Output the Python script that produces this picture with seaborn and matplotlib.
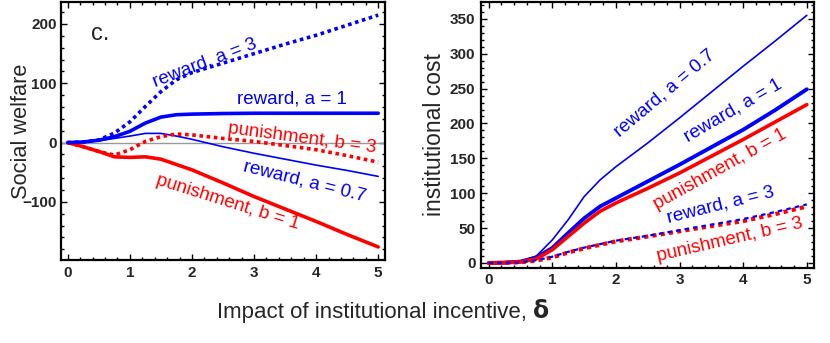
import numpy as np
import pandas as pd
import matplotlib
matplotlib.use("Agg")
import matplotlib.pyplot as plt
from matplotlib.ticker import MultipleLocator
import seaborn as sns

delta = [0, 0.25, 0.5, 0.75, 1.0, 1.25, 1.5, 1.75, 2.0, 2.5, 3.0, 3.5, 4.0, 4.5, 5.0]

# panel c: social welfare
sw_reward_a3 = [0, 1, 4.5, 16, 35, 61, 86, 106, 118, 134, 150, 166, 181, 198, 215]
sw_reward_a1 = [0, 1, 4, 10, 19, 33, 43, 47, 48, 49, 49.5, 49.5, 49.5, 49.5, 49.5]
sw_reward_a07 = [0, 1, 3, 7, 11, 15.5, 15.5, 11, 5.5, -7, -18, -28, -38, -47, -57]
sw_punish_b3 = [0, -7, -15, -21, -12, 2, 10, 14.5, 13, 7, 2, -5, -12, -22, -33]
sw_punish_b1 = [0, -7, -15, -24, -25, -24, -28, -37, -46, -68, -91, -112, -133, -155, -176]

# right panel: institutional cost
ic_reward_a07 = [0, 0.5, 2, 10, 33, 62, 95, 119, 138, 172, 208, 245, 282, 318, 355]
ic_reward_a1 = [0, 0.5, 2, 8, 21.5, 43, 64, 81, 93, 117, 141, 166, 191, 219, 249]
ic_punish_b1 = [0, 0.5, 1.5, 6, 19, 38, 57, 74, 86, 107, 129, 153, 177, 202, 227]
ic_reward_a3 = [0, 0.3, 1, 4, 9, 16, 22, 27, 32, 39, 47, 55, 63, 73, 84]
ic_punish_b3 = [0, 0.3, 1, 3.5, 8, 15, 21, 26, 31, 38, 45.5, 53, 60, 70, 81]

sns.set_style("ticks")
plt.rcParams['font.family'] = ['Liberation Sans', 'DejaVu Sans']

BLUE = '#0000ff'
RED = '#ff0000'
DOT = (1.0, 1.0)

fig = plt.figure(figsize=(8.3, 3.43), dpi=100)
ax1 = fig.add_axes([0.0735, 0.242, 0.3904, 0.752])
ax2 = fig.add_axes([0.5795, 0.219, 0.401, 0.775])

# --- left panel
ax1.axhline(0, color='#999999', lw=1.0, zorder=1)
sns.lineplot(x=delta, y=sw_reward_a07, ax=ax1, color=BLUE, lw=1.2)
sns.lineplot(x=delta, y=sw_punish_b1, ax=ax1, color=RED, lw=2.6)
sns.lineplot(x=delta, y=sw_reward_a1, ax=ax1, color=BLUE, lw=2.6)
sns.lineplot(x=delta, y=sw_punish_b3, ax=ax1, color=RED, lw=2.6,
             linestyle=(0, DOT))
sns.lineplot(x=delta, y=sw_reward_a3, ax=ax1, color=BLUE, lw=2.6,
             linestyle=(0, DOT))

lab = dict(fontsize=13.5, ha='center', va='center', rotation_mode='anchor')
ax1.text(0.52, 183, 'c.', fontsize=17, ha='center', va='center')
ax1.text(2.21, 134, 'reward, a = 3', color=BLUE, rotation=21, **lab)
ax1.text(3.61, 73, 'reward, a = 1', color=BLUE, rotation=0, **lab)
ax1.text(3.77, 8, 'punishment, b = 3', color=RED, rotation=-7.5, **lab)
ax1.text(3.82, -66, 'reward, a = 0.7', color=BLUE, rotation=-14, **lab)
ax1.text(2.58, -100, 'punishment, b = 1', color=RED, rotation=-17.5, **lab)

ax1.set_xlim(-0.11, 5.11)
ax1.set_ylim(-198, 237)
ax1.yaxis.set_major_locator(MultipleLocator(100))
ax1.yaxis.set_minor_locator(MultipleLocator(20))
ax1.set_ylabel('Social welfare', fontsize=15.7)
ax1.yaxis.set_label_coords(-0.09, 0.5)

# --- right panel
sns.lineplot(x=delta, y=ic_reward_a07, ax=ax2, color=BLUE, lw=1.2)
sns.lineplot(x=delta, y=ic_reward_a1, ax=ax2, color=BLUE, lw=2.8)
sns.lineplot(x=delta, y=ic_punish_b1, ax=ax2, color=RED, lw=2.6)
sns.lineplot(x=delta, y=ic_punish_b3, ax=ax2, color=RED, lw=3.0,
             linestyle=(0, DOT))
sns.lineplot(x=delta, y=ic_reward_a3, ax=ax2, color=BLUE, lw=1.6,
             linestyle=(0, (2.0, 1.9)))

ax2.text(2.77, 244, 'reward, a = 0.7', color=BLUE, rotation=40, **lab)
ax2.text(3.84, 218, 'reward, a = 1', color=BLUE, rotation=30, **lab)
ax2.text(3.64, 134, 'punishment, b = 1', color=RED, rotation=29, **lab)
ax2.text(3.65, 83, 'reward, a = 3', color=BLUE, rotation=14, **lab)
ax2.text(3.79, 33, 'punishment, b = 3', color=RED, rotation=13, **lab)

ax2.set_xlim(-0.12, 5.11)
ax2.set_ylim(-7, 374)
ax2.yaxis.set_major_locator(MultipleLocator(50))
ax2.yaxis.set_minor_locator(MultipleLocator(10))
ax2.set_ylabel('institutional cost', fontsize=16.5)
ax2.yaxis.set_label_coords(-0.105, 0.5)

for ax in (ax1, ax2):
    ax.xaxis.set_major_locator(MultipleLocator(1))
    ax.xaxis.set_minor_locator(MultipleLocator(0.2))
    ax.tick_params(which='both', direction='in', top=True, right=True,
                   width=1.0, color='black')
    ax.tick_params(which='major', length=4.5, pad=4)
    ax.tick_params(which='minor', length=2.5)
    for lbl in ax.get_xticklabels() + ax.get_yticklabels():
        lbl.set_fontweight('bold')
        lbl.set_fontsize(11)
    for sp in ax.spines.values():
        sp.set_visible(True)
        sp.set_linewidth(1.6)
        sp.set_color('black')
    ax.set_xlabel('')
ax1.tick_params(axis='y', which='major', pad=3)

fig.text(0.642, 0.073, 'Impact of institutional incentive, ', fontsize=16,
         ha='right', va='baseline')
fig.text(0.642, 0.073, 'δ', fontsize=17, fontweight='bold',
         ha='left', va='baseline', family=['DejaVu Sans'])

fig.savefig('out.png', dpi=100)
